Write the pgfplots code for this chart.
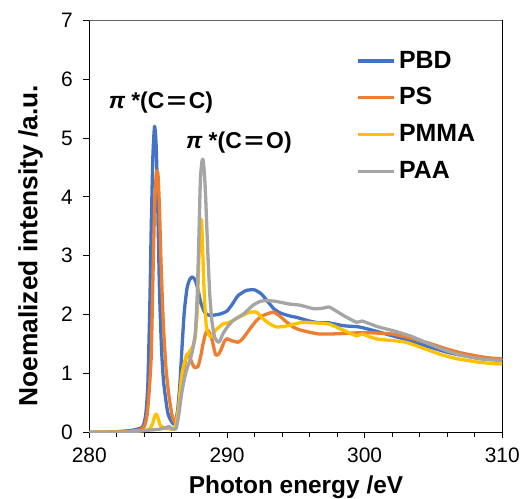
\documentclass[border=0pt]{standalone}
\usepackage{pgfplots}
\pgfplotsset{compat=1.18}
\usepackage{graphicx}
\usepackage{fontspec}
\setmainfont{Liberation Sans}
\definecolor{cPBD}{HTML}{4472C4}
\definecolor{cPS}{HTML}{ED7D31}
\definecolor{cPMMA}{HTML}{FFC000}
\definecolor{cPAA}{HTML}{A5A5A5}
\newcommand{\weq}{\hspace{2.5bp}\scalebox{1.45}[1]{=}\hspace{2.5bp}}
\begin{document}
\begin{tikzpicture}
\begin{axis}[
  at={(0,0)}, anchor=south west,
  scale only axis, width=413bp, height=412bp,
  xmin=280, xmax=310, ymin=0, ymax=7,
  xtick={280,290,300,310}, minor x tick num=4,
  ytick={0,1,2,3,4,5,6,7},
  tick align=outside, tick pos=left,
  major tick length=6bp, minor tick length=4.5bp,
  every tick/.style={black, line width=0.8bp},
  axis line style={black, line width=1bp},
  /pgf/number format/assume math mode=true,
  /pgf/number format/1000 sep={},
  tick label style={font=\fontsize{21}{22}\selectfont},
  xticklabel style={yshift=-6bp},
  yticklabel style={xshift=-7bp},
  xlabel={\textbf{Photon energy /eV}},
  ylabel={\textbf{Noemalized intensity /a.u.}},
  x label style={font=\fontsize{24.5}{26}\selectfont, at={(axis description cs:0.5005,0)}, anchor=base, yshift=-61.5bp},
  y label style={font=\fontsize{26.4}{28}\selectfont, at={(axis description cs:-0.126,0.453)}, anchor=base},
  legend style={draw=none, fill=none, at={(0.640,0.933)}, anchor=north west,
    font=\fontsize{25}{26}\selectfont\bfseries, row sep=14.7bp,
    nodes={inner xsep=3bp, inner ysep=0pt, text height=18bp, text depth=4bp}},
  legend cell align=left,
  legend image code/.code={\draw[#1, line width=3.2bp] (0bp,0bp) -- (36bp,0bp);},
  every axis plot/.append style={line width=3.3bp, smooth, tension=0.35, line join=round},
]
\addplot[cPBD] coordinates {
(280,0.0) (281,0.0) (282,0.01) (283,0.03) (283.6,0.06) (283.9,0.10) (284.1,0.3) (284.25,0.8) (284.4,2.2) (284.5,3.5) (284.62,4.7) (284.74,5.2) (284.85,4.9) (284.95,4.1) (285.1,2.4) (285.25,1.4) (285.4,0.85) (285.7,0.33) (286.0,0.17) (286.2,0.14) (286.4,0.35) (286.56,0.75) (286.75,1.5) (286.9,2.05) (287.1,2.45) (287.3,2.6) (287.5,2.64) (287.7,2.58) (287.9,2.42) (288.1,2.2) (288.4,2.03) (288.7,1.99) (289.0,1.99) (289.5,2.01) (290.0,2.06) (290.4,2.18) (290.8,2.32) (291.4,2.41) (292.0,2.42) (292.5,2.35) (292.9,2.24) (293.4,2.1) (293.85,2.03) (294.5,1.98) (295.1,1.95) (296.0,1.89) (296.7,1.86) (297.4,1.86) (298.5,1.81) (299.6,1.79) (300.8,1.72) (302.0,1.64) (303.0,1.58) (304.0,1.50) (305.0,1.43) (306.0,1.36) (307.0,1.31) (308.3,1.27) (309.2,1.25) (310,1.24)
};
\addlegendentry{PBD}
\addplot[cPS] coordinates {
(280,0.0) (282,0.01) (283,0.02) (283.7,0.04) (284.0,0.1) (284.2,0.3) (284.35,0.7) (284.5,1.3) (284.62,2.6) (284.74,3.8) (284.85,4.35) (284.92,4.45) (285.0,4.35) (285.1,3.8) (285.2,2.95) (285.35,2.0) (285.47,1.45) (285.6,1.0) (285.8,0.6) (286.0,0.3) (286.2,0.17) (286.4,0.28) (286.56,0.5) (286.75,0.85) (286.9,1.1) (287.05,1.3) (287.17,1.33) (287.3,1.28) (287.45,1.18) (287.65,1.1) (287.9,1.12) (288.1,1.3) (288.26,1.5) (288.45,1.68) (288.63,1.73) (288.8,1.66) (288.94,1.55) (289.1,1.38) (289.2,1.31) (289.4,1.33) (289.6,1.42) (289.8,1.54) (290.0,1.59) (290.3,1.56) (290.8,1.53) (291.1,1.58) (291.4,1.67) (291.8,1.80) (292.15,1.9) (292.5,1.97) (292.9,2.01) (293.4,2.04) (293.85,1.97) (294.3,1.88) (294.8,1.79) (295.3,1.74) (296.0,1.70) (296.7,1.67) (297.5,1.67) (298.6,1.68) (299.5,1.69) (300.5,1.69) (301.3,1.68) (302.0,1.67) (303.0,1.62) (304.0,1.56) (305.0,1.49) (305.9,1.42) (307.0,1.35) (308.3,1.29) (309.2,1.26) (310,1.25)
};
\addlegendentry{PS}
\addplot[cPMMA] coordinates {
(280,0.0) (282,0.0) (283,0.01) (284.0,0.03) (284.4,0.06) (284.6,0.15) (284.75,0.27) (284.86,0.31) (285.0,0.24) (285.15,0.12) (285.4,0.08) (285.7,0.06) (286.1,0.06) (286.3,0.14) (286.5,0.45) (286.7,0.94) (286.9,1.18) (287.05,1.28) (287.3,1.38) (287.5,1.45) (287.7,1.62) (287.85,2.1) (287.95,2.9) (288.07,3.5) (288.16,3.6) (288.25,3.0) (288.35,2.35) (288.5,1.8) (288.7,1.65) (288.87,1.62) (289.05,1.70) (289.2,1.74) (289.5,1.80) (289.7,1.84) (290.2,1.87) (290.9,1.96) (291.66,2.04) (292.15,2.04) (292.5,1.96) (292.76,1.9) (293.2,1.83) (293.6,1.79) (294.2,1.80) (295.1,1.85) (295.5,1.87) (296.3,1.86) (297.4,1.84) (298.4,1.74) (299.4,1.64) (299.8,1.67) (300.4,1.62) (301.0,1.58) (302.0,1.56) (303.0,1.53) (304.0,1.45) (304.7,1.39) (305.7,1.31) (306.7,1.25) (307.5,1.22) (308.3,1.19) (309.2,1.17) (310,1.16)
};
\addlegendentry{PMMA}
\addplot[cPAA] coordinates {
(280,0.0) (282,0.0) (283,0.01) (284.0,0.03) (285.0,0.05) (285.6,0.08) (285.8,0.1) (286.0,0.06) (286.3,0.06) (286.5,0.3) (286.7,0.65) (286.9,0.9) (287.05,1.05) (287.3,1.22) (287.5,1.39) (287.7,1.7) (287.85,2.4) (287.97,3.4) (288.07,4.3) (288.18,4.6) (288.26,4.64) (288.36,4.4) (288.45,4.0) (288.6,3.1) (288.75,2.35) (288.9,1.9) (289.1,1.62) (289.36,1.53) (289.5,1.56) (289.7,1.67) (290.0,1.78) (290.45,1.9) (291.2,2.01) (291.9,2.16) (292.5,2.23) (293.4,2.23) (294.5,2.18) (295.3,2.16) (296.3,2.10) (297.0,2.11) (297.4,2.13) (297.8,2.08) (298.5,1.98) (299.4,1.87) (299.8,1.89) (300.3,1.85) (301.0,1.79) (302.0,1.73) (303.0,1.66) (303.5,1.62) (304.7,1.50) (305.9,1.39) (307.0,1.31) (308.3,1.25) (309.2,1.23) (310,1.22)
};
\addlegendentry{PAA}
\draw[color={rgb,255:red,100;green,100;blue,100}, line width=1bp] (rel axis cs:0,1) -- (rel axis cs:1,1);
\node[anchor=base, font=\fontsize{23}{24}\selectfont\bfseries] at (axis cs:285.2,5.50) {\textit{π}\hspace{6bp}*(C\weq C)};
\node[anchor=base, font=\fontsize{23}{24}\selectfont\bfseries] at (axis cs:290.87,4.83) {\textit{π}\hspace{6bp}*(C\weq O)};
\end{axis}
\pgfresetboundingbox
\path (-89.3bp,-66.7bp) rectangle (433.7bp,432.3bp);
\end{tikzpicture}
\end{document}
